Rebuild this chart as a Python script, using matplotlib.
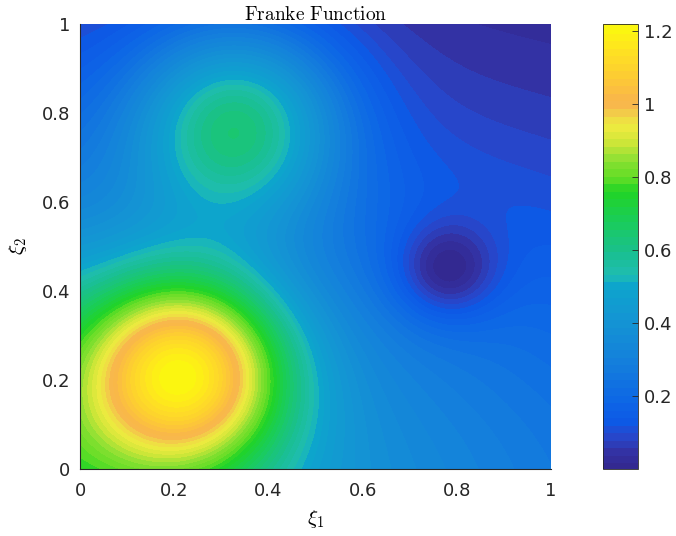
import numpy as np
import matplotlib
matplotlib.use("Agg")
import matplotlib.pyplot as plt
from matplotlib.colors import LinearSegmentedColormap

# Franke function terms: weight * exp(-au*(9u-cu)^2 - av*(9v-cv)^2 - lv*(9v-cv))
term_weights = [0.75, 0.75, 0.5, -0.2]
term_cu = [2.0, -1.0, 7.0, 4.0]
term_cv = [2.0, -1.0, 3.0, 7.0]
term_au = [1 / 4, 1 / 49, 1 / 4, 1.0]
term_av = [1 / 4, 0.0, 1 / 4, 1.0]
term_lv = [0.0, 1 / 10, 0.0, 0.0]

x_ticks = [0, 0.2, 0.4, 0.6, 0.8, 1]
x_tick_labels = ["0", "0.2", "0.4", "0.6", "0.8", "1"]
cbar_ticks = [0.2, 0.4, 0.6, 0.8, 1.0, 1.2]
cbar_tick_labels = ["0.2", "0.4", "0.6", "0.8", "1", "1.2"]
title_text = r"$\mathrm{Franke\ Function}$"
xlabel_text = r"$\xi_1$"
ylabel_text = r"$\xi_2$"

# colormap anchors (fraction of range, rgb)
cmap_pos = [0.0, 0.043, 0.076, 0.11, 0.155, 0.245, 0.335, 0.42, 0.436, 0.492, 0.56,
            0.627, 0.663, 0.701, 0.737, 0.775, 0.804, 0.82, 0.843, 0.888, 0.955, 1.0]
cmap_rgb = [(0.20, 0.15, 0.55), (0.20, 0.20, 0.65), (0.15, 0.28, 0.80), (0.05, 0.35, 0.90),
            (0.05, 0.40, 0.90), (0.08, 0.50, 0.86), (0.08, 0.58, 0.83), (0.05, 0.65, 0.80),
            (0.12, 0.74, 0.70), (0.10, 0.75, 0.56), (0.10, 0.80, 0.36), (0.13, 0.83, 0.15),
            (0.40, 0.87, 0.15), (0.55, 0.88, 0.20), (0.80, 0.90, 0.22), (0.93, 0.92, 0.25),
            (0.95, 0.82, 0.28), (0.97, 0.72, 0.30), (0.98, 0.72, 0.28), (0.99, 0.80, 0.20),
            (1.00, 0.90, 0.12), (0.98, 0.98, 0.05)]
cmap = LinearSegmentedColormap.from_list("ref", list(zip(cmap_pos, cmap_rgb)))

plt.rcParams["mathtext.fontset"] = "cm"
plt.rcParams["font.family"] = ["DejaVu Sans"]

n = 301
g = np.linspace(0, 1, n)
X, Y = np.meshgrid(g, g)
U, V = Y, X  # plotted field uses swapped arguments
Z = np.zeros_like(X)
for w, cu, cv, au, av, lv in zip(term_weights, term_cu, term_cv, term_au, term_av, term_lv):
    Z += w * np.exp(-au * (9 * U - cu) ** 2 - av * (9 * V - cv) ** 2 - lv * (9 * V - cv))

fig = plt.figure(figsize=(6.76, 5.36), dpi=100)
ax = fig.add_axes([80 / 676, 67 / 536, 471 / 676, 445 / 536])
cax = fig.add_axes([603 / 676, 67 / 536, 35 / 676, 445 / 536])

levels = np.linspace(Z.min(), Z.max(), 60)
cf = ax.contourf(X, Y, Z, levels=levels, cmap=cmap)
cf.set_edgecolor("face")
cf.set_linewidth(0.3)

ax.set_xlim(0, 1)
ax.set_ylim(0, 1)
ax.set_xticks(x_ticks)
ax.set_xticklabels(x_tick_labels)
ax.set_yticks(x_ticks)
ax.set_yticklabels(x_tick_labels)
ax.tick_params(direction="in", length=0, labelsize=13, colors="#262626")
ax.tick_params(axis="x", pad=9)
ax.tick_params(axis="y", pad=7)
for s in ["top", "right"]:
    ax.spines[s].set_visible(False)
for s in ["left", "bottom"]:
    ax.spines[s].set_color("#262626")
    ax.spines[s].set_linewidth(0.8)

ax.set_title(title_text, fontsize=14, pad=-0.5)
ax.set_xlabel(xlabel_text, fontsize=15, labelpad=6)
ax.set_ylabel(ylabel_text, fontsize=15, labelpad=9)

cb = fig.colorbar(cf, cax=cax, ticks=cbar_ticks)
cb.ax.set_yticklabels(cbar_tick_labels)
cb.ax.tick_params(direction="in", length=4, width=0.6, labelsize=13, colors="#262626", pad=4)
cb.outline.set_edgecolor("#262626")
cb.outline.set_linewidth(0.6)
for c in cb.ax.collections:
    c.set_edgecolor("face")

fig.savefig("out.png", dpi=100)
